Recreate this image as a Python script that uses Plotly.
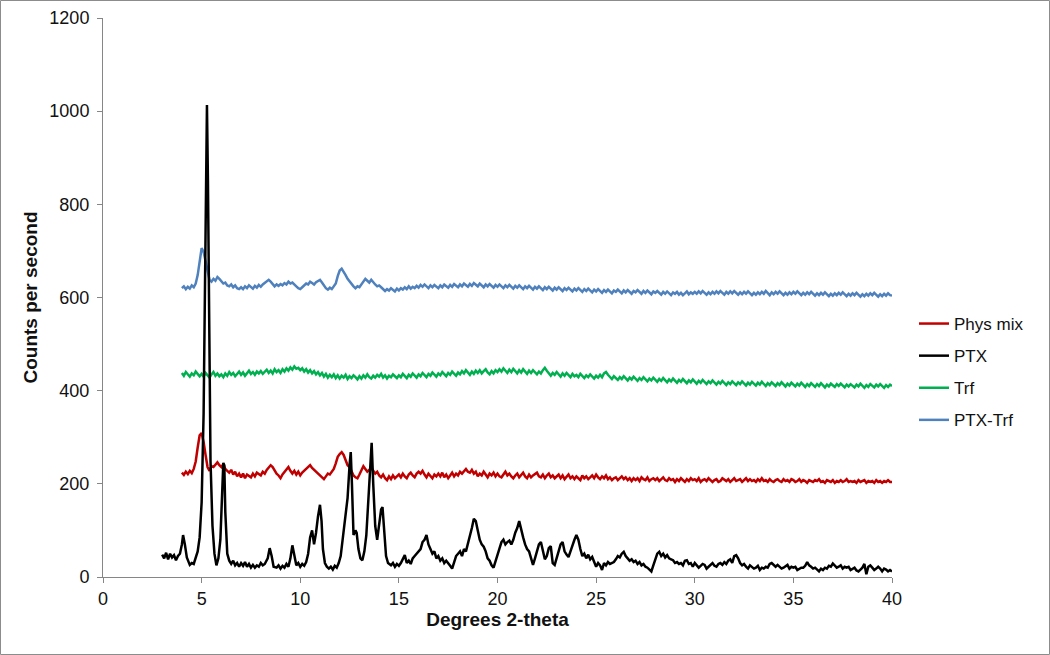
import numpy as np
import plotly.graph_objects as go

# ---------------- data ----------------
# common 2-theta grid for the three smoother patterns (4.0 .. 40.0, step 0.1)
grid_x = np.round(np.arange(4.0, 40.0001, 0.1), 2)

phys_mix_y = [
    224, 219, 226, 221, 228, 223, 232, 248, 278, 304,
    309, 290, 262, 236, 228, 238, 236, 242, 246, 240,
    236, 242, 232, 228, 224, 230, 220, 226, 216, 222,
    214, 222, 212, 220, 216, 214, 222, 216, 224, 220,
    218, 226, 222, 230, 234, 240, 236, 228, 222, 218,
    212, 220, 226, 232, 236, 228, 222, 228, 220, 226,
    218, 224, 228, 232, 236, 240, 234, 230, 226, 222,
    218, 212, 210, 216, 222, 220, 226, 232, 244, 258,
    264, 268, 262, 250, 240, 236, 226, 218, 214, 212,
    220, 230, 238, 232, 226, 230, 234, 228, 222, 226,
    218, 214, 220, 212, 208, 216, 210, 218, 212, 216,
    220, 214, 222, 216, 212, 220, 224, 218, 214, 222,
    226, 222, 228, 220, 214, 222, 218, 212, 220, 216,
    222, 216, 224, 214, 220, 212, 218, 224, 216, 222,
    218, 226, 222, 228, 232, 226, 224, 230, 222, 226,
    216, 222, 218, 226, 220, 214, 222, 218, 224, 216,
    222, 216, 214, 220, 226, 218, 222, 216, 212, 218,
    222, 214, 218, 224, 216, 212, 220, 214, 218, 222,
    224, 216, 214, 220, 212, 218, 222, 214, 218, 212,
    216, 220, 212, 218, 210, 214, 220, 212, 216, 210,
    216, 212, 208, 218, 212, 216, 210, 214, 218, 212,
    220, 214, 210, 216, 212, 218, 210, 214, 208, 212,
    214, 208, 212, 216, 210, 214, 208, 212, 206, 212,
    208, 212, 206, 214, 210, 208, 214, 206, 210, 212,
    208, 212, 206, 210, 214, 208, 206, 212, 208, 210,
    204, 210, 206, 212, 208, 204, 210, 206, 212, 208,
    210, 206, 212, 204, 208, 210, 206, 212, 208, 204,
    208, 210, 204, 206, 212, 208, 206, 210, 204, 208,
    212, 206, 208, 210, 204, 208, 212, 206, 210, 206,
    208, 204, 210, 206, 212, 206, 208, 204, 210, 206,
    204, 208, 210, 206, 204, 210, 206, 208, 204, 210,
    208, 204, 206, 210, 204, 208, 206, 202, 208, 206,
    204, 208, 206, 210, 204, 206, 202, 208, 206, 204,
    208, 202, 206, 204, 208, 204, 206, 210, 204, 206,
    204, 206, 202, 208, 204, 206, 208, 202, 206, 204,
    206, 202, 208, 204, 206, 202, 206, 204, 208, 204,
    204,
]

trf_y = [
    438, 432, 440, 434, 430, 437, 433, 441, 436, 431,
    436, 430, 438, 433, 428, 435, 440, 432, 437, 431,
    435, 429, 437, 432, 440, 434, 438, 431, 436, 441,
    434, 439, 432, 437, 443, 436, 440, 434, 441, 437,
    442, 436, 440, 445, 438, 443, 437, 446, 440, 444,
    438, 446, 441, 448, 443, 450, 445, 452, 447, 449,
    444, 448, 441, 446, 439, 444, 437, 442, 435, 440,
    433, 438, 430, 436, 428, 434, 429, 435, 427, 433,
    426, 432, 428, 434, 425, 431, 427, 433, 429, 424,
    431, 426, 433, 428, 435, 429, 426, 432, 428, 434,
    430, 436, 428, 433, 426, 432, 429, 435, 431, 427,
    433, 429, 436, 431, 427, 434, 430, 437, 432, 428,
    435, 431, 438, 433, 429, 436, 432, 439, 434, 430,
    437, 433, 440, 435, 431, 438, 434, 441, 436, 432,
    439, 435, 442, 437, 444, 438, 434, 441, 436, 443,
    438, 444, 437, 442, 446, 439, 435, 442, 437, 444,
    440, 446, 441, 448, 443, 438, 445, 440, 447, 442,
    437, 444, 439, 446, 441, 436, 443, 438, 444, 439,
    435, 441, 437, 444, 449, 443, 437, 432, 438, 434,
    440, 435, 430, 437, 432, 438, 433, 429, 436, 431,
    434, 429, 436, 431, 427, 433, 429, 435, 430, 426,
    432, 428, 434, 429, 437, 440, 434, 429, 425, 431,
    427, 423, 429, 425, 431, 426, 422, 428, 424, 430,
    425, 421, 427, 423, 429, 424, 420, 426, 422, 428,
    423, 419, 425, 421, 427, 422, 418, 424, 420, 426,
    421, 417, 423, 419, 425, 420, 416, 422, 418, 424,
    419, 415, 421, 417, 423, 418, 414, 420, 416, 422,
    417, 413, 419, 415, 421, 416, 412, 418, 414, 420,
    416, 412, 418, 414, 420, 415, 411, 417, 413, 419,
    415, 411, 417, 413, 419, 414, 410, 416, 412, 418,
    414, 410, 416, 412, 418, 413, 409, 415, 411, 417,
    413, 409, 415, 411, 417, 412, 408, 414, 410, 416,
    412, 408, 414, 410, 416, 411, 407, 413, 409, 415,
    412, 408, 414, 410, 415, 411, 407, 413, 409, 414,
    411, 407, 413, 409, 415, 410, 406, 412, 408, 414,
    410, 407, 413, 409, 414, 410, 406, 412, 408, 413,
    410,
]

ptx_trf_y = [
    620, 624, 618, 623, 619, 626, 622, 630, 648, 678,
    706, 698, 676, 652, 638, 634, 640, 636, 644, 640,
    634, 630, 632, 626, 624, 628, 622, 626, 620, 618,
    622, 618, 624, 620, 626, 622, 619, 625, 621, 627,
    623, 628, 632, 636, 638, 634, 629, 624, 628, 625,
    629, 626, 631, 628, 634, 630, 632, 627, 624, 620,
    618, 622, 626, 630, 628, 634, 631, 628, 633, 636,
    638, 632, 626, 620, 617, 621, 618, 624, 630, 646,
    658, 662, 656, 648, 640, 634, 628, 624, 620, 624,
    622, 628, 634, 640, 636, 632, 638, 632, 628, 624,
    626, 622, 618, 614, 618, 615, 620, 616, 613, 619,
    615, 620, 617, 622, 618, 624, 619, 623, 620, 625,
    621, 627, 623, 628, 624, 620, 626, 622, 627, 623,
    620, 626, 622, 628, 624, 621, 627, 623, 629, 625,
    622, 628, 624, 630, 626, 623, 629, 625, 631, 627,
    624, 630, 626, 622, 628, 624, 629, 625, 621, 627,
    623, 628, 624, 620, 626, 622, 627, 623, 619, 625,
    621, 626, 622, 618, 624, 620, 625, 621, 617, 623,
    619, 624, 620, 616, 622, 618, 623, 619, 615, 621,
    617, 622, 618, 614, 620, 616, 621, 617, 613, 619,
    615, 620, 616, 612, 618, 614, 619, 615, 611, 617,
    613, 618, 614, 610, 616, 612, 617, 613, 609, 615,
    612, 617, 613, 609, 615, 611, 616, 612, 608, 614,
    611, 616, 612, 608, 614, 610, 615, 611, 607, 613,
    610, 614, 610, 606, 612, 608, 613, 609, 605, 611,
    608, 612, 606, 610, 605, 609, 613, 607, 611, 608,
    612, 608, 613, 609, 614, 610, 606, 611, 607, 612,
    608, 613, 609, 614, 610, 606, 612, 608, 613, 609,
    614, 610, 606, 611, 607, 612, 608, 613, 609, 605,
    610, 606, 611, 607, 612, 608, 614, 609, 605, 611,
    607, 612, 608, 613, 609, 605, 610, 606, 611, 607,
    612, 608, 613, 609, 605, 610, 606, 611, 607, 612,
    608, 604, 609, 605, 610, 606, 611, 607, 603, 608,
    604, 609, 605, 610, 606, 611, 607, 603, 608, 604,
    609, 605, 610, 606, 602, 607, 603, 608, 604, 609,
    605, 610, 606, 602, 607, 603, 608, 604, 609, 605,
    604,
]

# PTX: irregular sampling around the sharp peaks, then regular grids
ptx_x_head = [
    3.0, 3.1, 3.2, 3.3, 3.4, 3.5, 3.6, 3.7, 3.8, 3.9,
    4.0, 4.06, 4.15, 4.25, 4.4, 4.5, 4.6, 4.7, 4.8, 4.9,
    5.0, 5.1, 5.17, 5.22, 5.27, 5.32, 5.38, 5.45, 5.55, 5.65,
    5.75, 5.85, 5.95, 6.03, 6.1, 6.15, 6.2, 6.3, 6.4, 6.5,
    6.6, 6.7, 6.8, 6.9, 7.0, 7.1, 7.2, 7.3, 7.4, 7.5,
    7.6, 7.7, 7.8, 7.9, 8.0, 8.1, 8.2, 8.35, 8.45, 8.55,
    8.65, 8.8, 8.9, 9.0, 9.1, 9.2, 9.3, 9.4, 9.5, 9.6,
    9.7, 9.8, 9.9, 10.0, 10.1, 10.2, 10.3, 10.4, 10.5, 10.6,
    10.7, 10.8, 10.9, 11.0, 11.08, 11.15, 11.25, 11.35, 11.45, 11.55,
    11.65, 11.75, 11.85, 11.95, 12.05, 12.15, 12.27, 12.4, 12.5, 12.56,
    12.62, 12.7, 12.8, 12.86, 12.95, 13.05, 13.15, 13.25, 13.35, 13.45,
    13.55, 13.62, 13.7, 13.8, 13.9, 14.0, 14.1, 14.17, 14.25, 14.35,
    14.45, 14.6, 14.7, 14.8, 14.9, 15.0, 15.1, 15.2, 15.3, 15.4,
]
ptx_x_mid = np.round(np.arange(15.5, 30.45, 0.1), 2)    # 15.5 .. 30.4
ptx_x_tail = np.round(np.arange(30.5, 40.0001, 0.1), 2)  # 30.5 .. 40.0

ptx_y = [
    48, 40, 52, 38, 50, 42, 47, 36, 45, 50,
    70, 90, 70, 42, 26, 30, 28, 40, 55, 85,
    160, 350, 600, 850, 1013, 850, 500, 250, 110, 50,
    25, 40, 80, 160, 245, 240, 140, 50, 35, 28,
    35, 25, 30, 22, 30, 24, 32, 22, 28, 20,
    26, 20, 25, 22, 30, 25, 28, 40, 62, 45,
    22, 20, 25, 18, 24, 20, 28, 22, 40, 68,
    45, 25, 30, 22, 28, 24, 32, 50, 85, 100,
    70, 95, 130, 155, 120, 60, 30, 22, 18, 22,
    16, 24, 20, 30, 45, 80, 115, 170, 240, 268,
    200, 90, 100, 95, 60, 40, 36, 55, 90, 160,
    240, 288, 200, 110, 80, 110, 145, 150, 110, 45,
    30, 25, 30, 22, 28, 24, 30, 38, 47, 30,
    # 15.5 .. 30.4 step 0.1
    35, 28, 40, 45, 50, 55, 60, 75, 80, 90,
    70, 60, 50, 55, 40, 45, 35, 40, 30, 35,
    28, 24, 18, 30, 45, 50, 55, 45, 60, 55,
    70, 90, 105, 125, 120, 100, 80, 70, 65, 55,
    40, 35, 25, 20, 35, 50, 60, 75, 80, 70,
    75, 78, 70, 80, 95, 105, 120, 100, 85, 70,
    60, 55, 40, 26, 40, 55, 70, 75, 55, 38,
    45, 62, 66, 30, 26, 42, 55, 70, 75, 55,
    48, 43, 55, 70, 80, 90, 80, 60, 45, 50,
    40, 48, 38, 43, 30, 22, 30, 25, 15, 30,
    25, 32, 28, 30, 32, 38, 45, 42, 50, 54,
    45, 40, 35, 38, 32, 35, 28, 32, 25, 28,
    22, 20, 15, 12, 25, 40, 50, 54, 45, 50,
    42, 47, 40, 38, 36, 30, 32, 28, 30, 25,
    35, 36, 28, 30, 22, 30, 26, 20, 24, 28,
    # 30.5 .. 40.0 step 0.1
    26, 18, 22, 25, 30, 24, 22, 28, 30, 26,
    32, 28, 35, 38, 30, 45, 47, 40, 30, 25,
    28, 22, 18, 25, 22, 18, 20, 24, 15, 20,
    18, 22, 20, 28, 30, 25, 22, 26, 22, 18,
    20, 24, 26, 18, 22, 20, 22, 15, 18, 20,
    20, 24, 32, 25, 22, 18, 20, 15, 12, 18,
    15, 20, 18, 24, 22, 29, 24, 20, 22, 25,
    18, 22, 20, 22, 15, 18, 20, 14, 12, 16,
    20, 28, 6, 22, 25, 20, 15, 18, 22, 18,
    12, 18, 16, 12, 15, 12,
]
ptx_x = list(ptx_x_head) + list(ptx_x_mid) + list(ptx_x_tail)

x_ticks = [0, 5, 10, 15, 20, 25, 30, 35, 40]
y_ticks = [0, 200, 400, 600, 800, 1000, 1200]

# ---------------- figure ----------------
FONT = "Liberation Sans, Arial, sans-serif"
W, H = 1050, 655
L, R, T, B = 103, 158, 18, 78
pw, ph = W - L - R, H - T - B
LW = 2.5

fig = go.Figure()

fig.add_trace(go.Scatter(x=grid_x, y=phys_mix_y, mode="lines", name="Phys mix",
                         legendgroup="g1", legendrank=1,
                         line=dict(color="#C00000", width=LW)))
fig.add_trace(go.Scatter(x=grid_x, y=trf_y, mode="lines", name="Trf",
                         legendgroup="g3", legendrank=3,
                         line=dict(color="#00B050", width=LW)))
fig.add_trace(go.Scatter(x=grid_x, y=ptx_trf_y, mode="lines", name="PTX-Trf",
                         legendgroup="g4", legendrank=4,
                         line=dict(color="#4F81BD", width=LW)))
fig.add_trace(go.Scatter(x=ptx_x, y=ptx_y, mode="lines", name="PTX",
                         legendgroup="g2", legendrank=2,
                         line=dict(color="#000000", width=LW)))

axis_common = dict(
    showgrid=False, zeroline=False, showline=True, linecolor="#868686", linewidth=1,
    ticks="outside", ticklen=5, tickcolor="#868686", tickwidth=1, automargin=False,
    tickfont=dict(family=FONT, size=18, color="#111111"),
)

fig.update_layout(
    width=W, height=H,
    margin=dict(l=L, r=R, t=T, b=B, autoexpand=False),
    paper_bgcolor="white", plot_bgcolor="white",
    xaxis=dict(range=[0, 40], tickvals=x_ticks, ticktext=[str(v) for v in x_ticks],
               title=dict(text="<b>Degrees 2-theta</b>", standoff=4,
                          font=dict(family=FONT, size=19, color="#111111")),
               **axis_common),
    yaxis=dict(range=[0, 1200], tickvals=y_ticks, ticktext=[str(v) for v in y_ticks],
               ticklabelstandoff=4,
               title=dict(text="<b>Counts per second</b>", standoff=6,
                          font=dict(family=FONT, size=19, color="#111111")),
               **axis_common),
    legend=dict(x=(914 - L) / pw, y=(577 - 372) / ph, xanchor="left", yanchor="middle",
                font=dict(family=FONT, size=17, color="#111111"),
                traceorder="grouped", tracegroupgap=7,
                bgcolor="rgba(0,0,0,0)", itemwidth=30),
    showlegend=True,
    shapes=[dict(type="rect", xref="paper", yref="paper",
                 x0=(0.5 - L) / pw, x1=(W - 0.5 - L) / pw,
                 y0=(577 - (H - 0.5)) / ph, y1=(577 - 0.5) / ph,
                 line=dict(color="#8c8c8c", width=1), fillcolor="rgba(0,0,0,0)",
                 layer="below")],
)

fig.write_html("out.html", config={"displayModeBar": False},
               post_script="document.body.style.margin='0';")
